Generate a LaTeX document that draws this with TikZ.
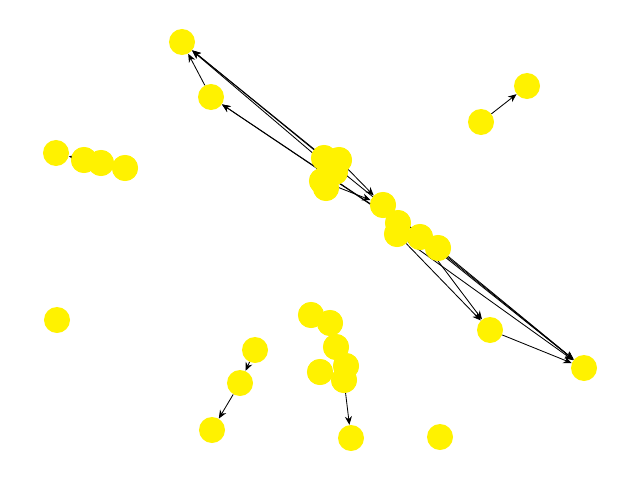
\documentclass[tikz,border=0pt]{standalone}
\usetikzlibrary{arrows.meta}
\begin{document}
\begin{tikzpicture}[x=0.025cm,y=-0.025cm,
	vertex/.style={circle,fill=yellow,inner sep=0pt,minimum size=0.65cm},
	edge/.style={-{Stealth[length=6pt,width=5pt]},black,semithick}]
	\useasboundingbox (0,0) rectangle (640,480);

	% Place vertices
	\foreach \n/\x/\y in {a/182/42,b/211/97,c1/324/158,c2/339/160,c3/335/172,c4/322/181,c5/326/188,
		d/383/205,e1/398/223,e2/397/234,f/420/237,g/438/248,h/490/330,i/584/368,
		j/481/122,k/527/86,l1/56/153,l2/84/160,l3/101/163,l4/125/168,m/57/320,
		n/255/350,o/240/383,p/212/430,q1/311/315,q2/330/323,q3/336/347,q4/346/366,q5/320/372,q6/344/380,
		r/351/438,s/440/437}
		\node[vertex] (\n) at (\x,\y) {};

	% Draw edges
	\foreach \u/\v in {b/a,c1/a,c3/a,d/a,e1/b,f/b,c2/d,c4/d,d/i,e2/i,f/i,g/i,h/i,e2/h,f/h,
		j/k,l2/l1,n/o,o/p,q6/r}
		\draw[edge] (\u) -- (\v);

	% Redraw overlapping vertices on top
	\foreach \n in {c1,c2,c3,c4,c5,d,e1,e2,f,g,l2,l3,l4,q1,q2,q3,q4,q5,q6}
		\fill[yellow] (\n.center) circle (0.325cm);
\end{tikzpicture}
\end{document}
